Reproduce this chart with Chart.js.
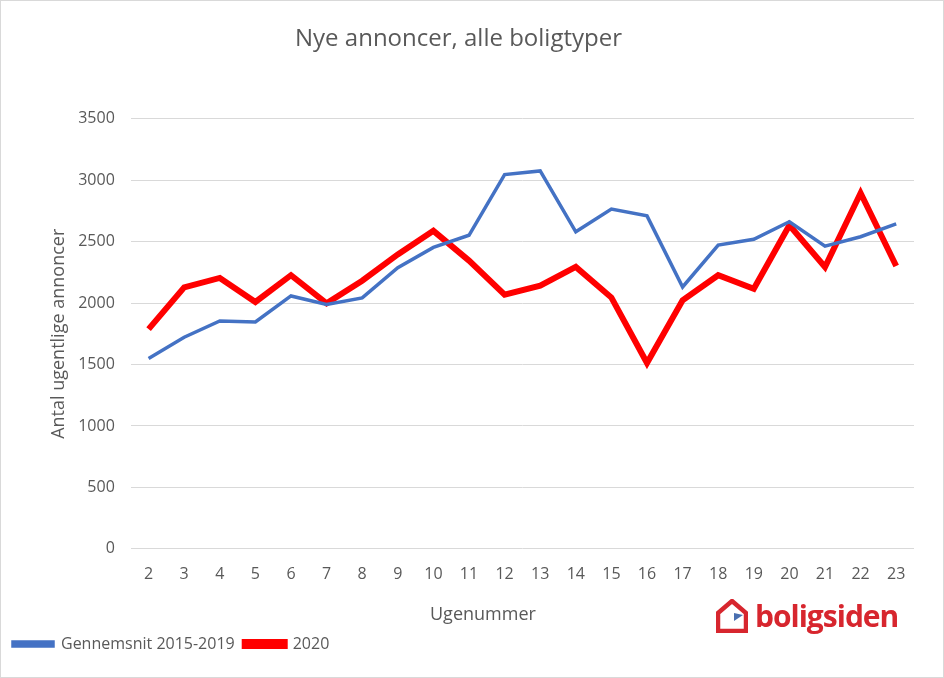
<!DOCTYPE html>
<html>
<head>
<meta charset="utf-8">
<script src="https://cdn.jsdelivr.net/npm/chart.js@4.4.1/dist/chart.umd.min.js"></script>
<style>
  html, body { margin: 0; padding: 0; background: #fff; }
  #wrap { position: relative; width: 944px; height: 678px; box-sizing: border-box; border: 1px solid #d9d9d9; }
  #xtitle { position: absolute; left: 429px; top: 599px; font-family: "Open Sans", sans-serif; font-size: 18px; line-height: 26px; color: #595959; }
  #logo { position: absolute; left: 715px; top: 594px; display: flex; align-items: center; }
  #logo span { font-family: "Open Sans", sans-serif; font-weight: 700; font-size: 30px; color: #d7262e; margin-left: 7px; letter-spacing: -1px; }
</style>
</head>
<body>
<div id="wrap">
  <canvas id="chart" width="942" height="676"></canvas>
  <div id="xtitle">Ugenummer</div>
  <div id="logo">
    <svg width="32" height="34" viewBox="0 0 32 34">
      <path d="M16 2 L30 14 L30 32 L2 32 L2 14 Z" fill="none" stroke="#d7262e" stroke-width="4.5" stroke-linejoin="miter"/>
      <path d="M18 14 L27 16 L18 22 Z" fill="#4a6fb0"/>
    </svg>
    <span>boligsiden</span>
  </div>
</div>
<script>
// Data
const weeks = ['2', '3', '4', '5', '6', '7', '8', '9', '10', '11', '12',
               '13', '14', '15', '16', '17', '18', '19', '20', '21', '22', '23'];
const avg2015to2019 = [1548, 1722, 1854, 1846, 2058, 1988, 2042, 2288, 2453, 2552, 3046,
                       3076, 2580, 2766, 2710, 2131, 2472, 2520, 2662, 2463, 2540, 2645];
const year2020 = [1788, 2128, 2205, 2009, 2227, 1998, 2182, 2396, 2588, 2346, 2068,
                  2142, 2294, 2045, 1512, 2023, 2227, 2116, 2633, 2294, 2896, 2302];
const yTicks = [0, 500, 1000, 1500, 2000, 2500, 3000, 3500];

const textColor = '#595959';
const font = "'Open Sans', sans-serif";

const ctx = document.getElementById('chart').getContext('2d');

const chart = new Chart(ctx, {
    type: 'line',
    data: {
        labels: weeks,
        datasets: [{
            label: 'Gennemsnit 2015-2019',
            data: avg2015to2019,
            borderColor: '#4472c4',
            backgroundColor: '#4472c4',
            borderWidth: 3.5,
            pointRadius: 0,
            tension: 0
        }, {
            label: '2020',
            data: year2020,
            borderColor: '#ff0000',
            backgroundColor: '#ff0000',
            borderWidth: 6,
            pointRadius: 0,
            tension: 0
        }]
    },
    options: {
        responsive: false,
        animation: false,
        layout: {
            padding: { left: 2, right: 29, top: 24, bottom: 15 }
        },
        plugins: {
            title: {
                display: true,
                text: 'Nye annoncer, alle boligtyper',
                color: textColor,
                font: { family: font, size: 24, weight: 'normal' },
                padding: { top: 0, bottom: 65 }
            },
            legend: {
                position: 'bottom',
                align: 'start',
                labels: {
                    color: textColor,
                    font: { family: font, size: 16 },
                    boxWidth: 40,
                    boxHeight: 4,
                    padding: 10
                }
            },
            tooltip: { enabled: false }
        },
        scales: {
            x: {
                offset: true,
                grid: { display: false },
                border: { display: false },
                ticks: {
                    color: textColor,
                    font: { family: font, size: 16 },
                    padding: 8,
                    maxRotation: 0,
                    autoSkip: false
                },
                // room for the "Ugenummer" caption and the logo
                afterFit: scale => { scale.height += 34; }
            },
            y: {
                min: 0,
                max: 3500,
                afterBuildTicks: axis => {
                    axis.ticks = yTicks.map(v => ({ value: v }));
                },
                grid: { color: '#d9d9d9', drawTicks: false },
                border: { display: false },
                ticks: {
                    color: textColor,
                    font: { family: font, size: 16 },
                    padding: 16,
                    callback: v => String(v)
                },
                title: {
                    display: true,
                    text: 'Antal ugentlige annoncer',
                    color: textColor,
                    font: { family: font, size: 18, lineHeight: 0.4 },
                    padding: { top: 52, bottom: 0 }
                }
            }
        }
    }
});
</script>
</body>
</html>
